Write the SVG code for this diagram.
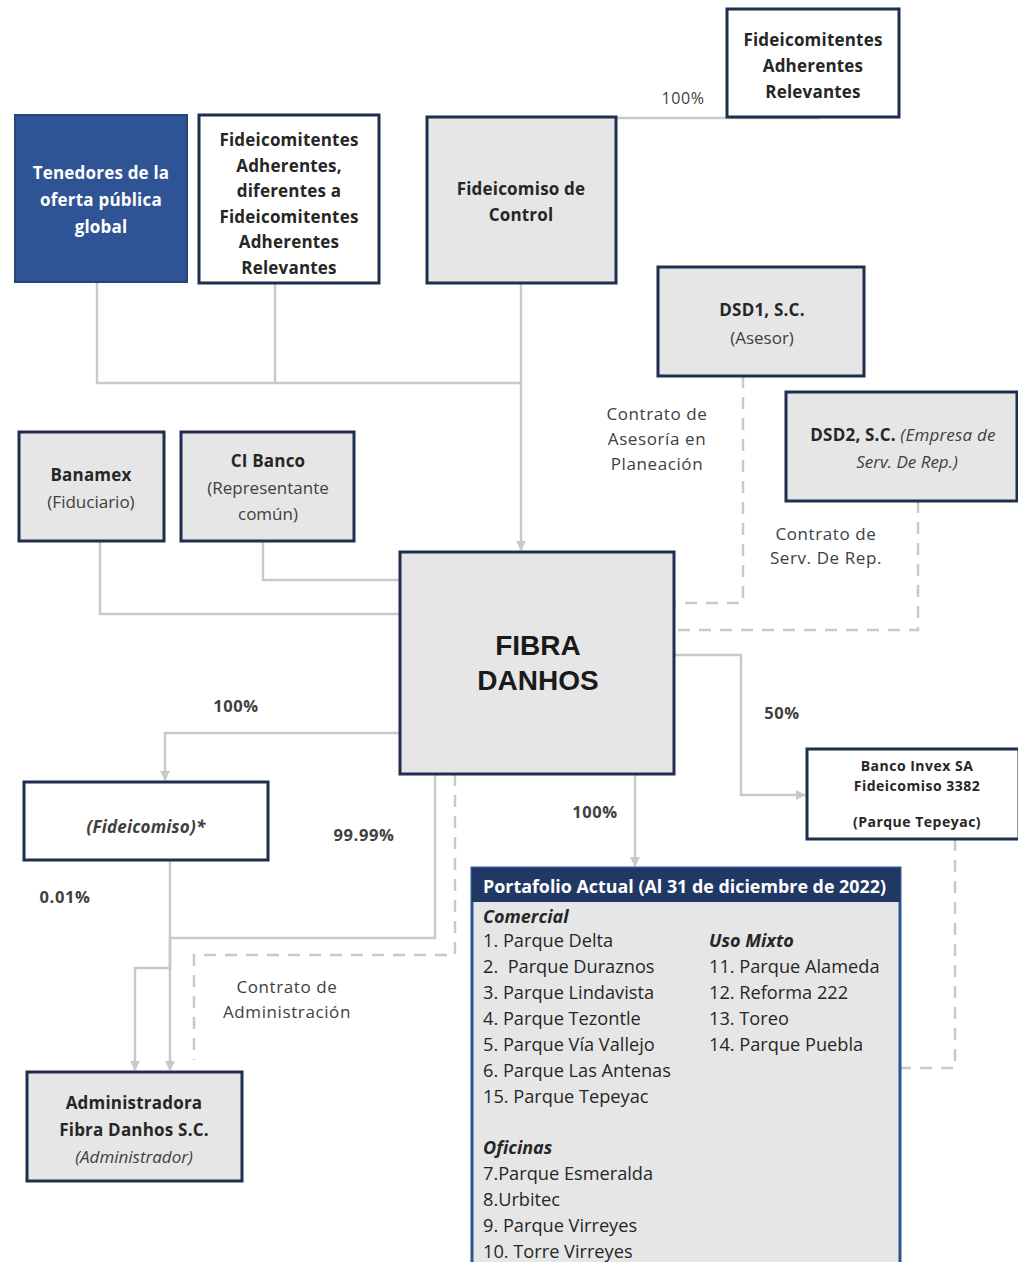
<svg xmlns="http://www.w3.org/2000/svg" width="1018" height="1262" viewBox="0 0 1018 1262">
<style>
.box{stroke:#1f2e4f;stroke-width:3}
.gray{fill:#e6e6e6}
.white{fill:#ffffff}
.t{font-family:"Open Sans","Liberation Sans",sans-serif;font-size:17px;letter-spacing:0.2px;font-weight:bold;fill:#262626;text-anchor:middle}
.ti{font-family:"Open Sans","Liberation Sans",sans-serif;font-size:17px;font-style:italic;fill:#404040;text-anchor:middle}
.tr{font-family:"Open Sans","Liberation Sans",sans-serif;font-size:17px;fill:#404040;text-anchor:middle}
.lbl{font-family:"Open Sans","Liberation Sans",sans-serif;font-size:17px;letter-spacing:0.6px;fill:#404040;text-anchor:middle}
.pct{font-family:"Open Sans","Liberation Sans",sans-serif;font-size:16.5px;letter-spacing:0.6px;font-weight:bold;fill:#404040;text-anchor:middle}
.inv{font-family:"Open Sans","Liberation Sans",sans-serif;font-size:14px;letter-spacing:0.5px;font-weight:bold;fill:#262626;text-anchor:middle}
.conn{fill:none;stroke:#c9c9c9;stroke-width:2.5}
.dash{fill:none;stroke:#c9c9c9;stroke-width:2.5;stroke-dasharray:12 9}
.pl{font-family:"Open Sans","Liberation Sans",sans-serif;font-size:18.2px;fill:#262626}
.ph{font-family:"Open Sans","Liberation Sans",sans-serif;font-size:18px;font-weight:bold;font-style:italic;fill:#262626}
</style>
<defs>
<marker id="arr" viewBox="0 0 10 10" refX="9" refY="5" markerWidth="4" markerHeight="4" orient="auto">
<path d="M0,0 L10,5 L0,10 z" fill="#c9c9c9"/>
</marker>
</defs>
<rect width="1018" height="1262" fill="#ffffff"/>

<g id="connectors">
<polyline class="conn" points="820,118 520,118"/>
<polyline class="conn" points="97,282 97,383 521,383"/>
<polyline class="conn" points="275,283 275,383"/>
<polyline class="conn" points="521,283 521,550" marker-end="url(#arr)"/>
<polyline class="conn" points="100,541 100,614 400,614"/>
<polyline class="conn" points="263,541 263,580 400,580"/>
<polyline class="dash" points="743,376 743,603 675,603"/>
<polyline class="dash" points="918,501 918,630 675,630"/>
<polyline class="conn" points="675,655 741,655 741,795 805,795" marker-end="url(#arr)"/>
<polyline class="conn" points="400,733 165,733 165,780" marker-end="url(#arr)"/>
<polyline class="conn" points="635,774 635,866" marker-end="url(#arr)"/>
<polyline class="dash" points="955,839 955,1068 900,1068"/>
<polyline class="conn" points="435,774 435,938 170,938 170,1070" marker-end="url(#arr)"/>
<polyline class="conn" points="170,860 170,968 135,968 135,1070" marker-end="url(#arr)"/>
<polyline class="dash" points="455,774 455,955 194,955 194,1060"/>
</g>

<g id="labels">
<text class="lbl" x="683" y="104" style="font-size:16px">100%</text>
<text class="lbl" x="657" y="420">Contrato de</text>
<text class="lbl" x="657" y="445">Asesoría en</text>
<text class="lbl" x="657" y="470">Planeación</text>
<text class="lbl" x="826" y="540">Contrato de</text>
<text class="lbl" x="826" y="564">Serv. De Rep.</text>
<text class="pct" x="236" y="712">100%</text>
<text class="pct" x="782" y="719">50%</text>
<text class="pct" x="595" y="818">100%</text>
<text class="pct" x="364" y="841">99.99%</text>
<text class="pct" x="65" y="903">0.01%</text>
<text class="lbl" x="287" y="993">Contrato de</text>
<text class="lbl" x="287" y="1018">Administración</text>
</g>

<g id="tenedores">
<rect x="15" y="115" width="172" height="167" fill="#2f5496" stroke="#264478" stroke-width="2"/>
<text class="t" x="101" y="179" style="fill:#ffffff">Tenedores de la</text>
<text class="t" x="101" y="206" style="fill:#ffffff">oferta pública</text>
<text class="t" x="101" y="233" style="fill:#ffffff">global</text>
</g>

<g id="fideicomitentes-adherentes">
<rect class="box white" x="199" y="115" width="180" height="168"/>
<text class="t" x="289" y="146">Fideicomitentes</text>
<text class="t" x="289" y="172">Adherentes,</text>
<text class="t" x="289" y="197">diferentes a</text>
<text class="t" x="289" y="223">Fideicomitentes</text>
<text class="t" x="289" y="248">Adherentes</text>
<text class="t" x="289" y="274">Relevantes</text>
</g>

<g id="fideicomiso-control">
<rect class="box gray" x="427" y="117" width="189" height="166"/>
<text class="t" x="521" y="195">Fideicomiso de</text>
<text class="t" x="521" y="221">Control</text>
</g>

<g id="fideicomitentes-relevantes">
<rect class="box white" x="727" y="9" width="172" height="108"/>
<text class="t" x="813" y="46">Fideicomitentes</text>
<text class="t" x="813" y="72">Adherentes</text>
<text class="t" x="813" y="98">Relevantes</text>
</g>

<g id="dsd1">
<rect class="box gray" x="658" y="267" width="206" height="109"/>
<text class="t" x="762" y="316">DSD1, S.C.</text>
<text class="tr" x="762" y="344">(Asesor)</text>
</g>

<g id="dsd2">
<rect class="box gray" x="786" y="392" width="231" height="109"/>
<text class="t" x="903" y="441">DSD2, S.C. <tspan style="font-weight:normal;font-style:italic;fill:#404040">(Empresa de</tspan></text>
<text class="ti" x="907" y="468">Serv. De Rep.)</text>
</g>

<g id="banamex">
<rect class="box gray" x="19" y="432" width="145" height="109"/>
<text class="t" x="91" y="481">Banamex</text>
<text class="tr" x="91" y="508">(Fiduciario)</text>
</g>

<g id="cibanco">
<rect class="box gray" x="181" y="432" width="173" height="109"/>
<text class="t" x="268" y="467">CI Banco</text>
<text class="tr" x="268" y="494">(Representante</text>
<text class="tr" x="268" y="520">común)</text>
</g>

<g id="fibra-danhos">
<rect class="box gray" x="400" y="552" width="274" height="222"/>
<text x="538" y="655" style="font-family:'Liberation Sans',Arial,sans-serif;font-size:28px;font-weight:bold;fill:#1a1a1a;text-anchor:middle">FIBRA</text>
<text x="538" y="690" style="font-family:'Liberation Sans',Arial,sans-serif;font-size:28px;font-weight:bold;fill:#1a1a1a;text-anchor:middle">DANHOS</text>
</g>

<g id="fideicomiso">
<rect class="box white" x="24" y="782" width="244" height="78"/>
<text class="t" x="146" y="833" style="font-style:italic;fill:#404040">(Fideicomiso)*</text>
</g>

<g id="banco-invex">
<rect class="box white" x="807" y="749" width="212" height="90"/>
<text class="inv" x="917" y="771">Banco Invex SA</text>
<text class="inv" x="917" y="791">Fideicomiso 3382</text>
<text class="inv" x="917" y="827">(Parque Tepeyac)</text>
</g>

<g id="administradora">
<rect class="box gray" x="27" y="1072" width="215" height="109"/>
<text class="t" x="134" y="1109">Administradora</text>
<text class="t" x="134" y="1136">Fibra Danhos S.C.</text>
<text class="ti" x="134" y="1163">(Administrador)</text>
</g>

<g id="portafolio">
<rect x="472" y="868" width="428" height="400" fill="#e6e6e6" stroke="#2f5496" stroke-width="3"/>
<rect x="472" y="868" width="428" height="34" fill="#203864"/>
<text x="483" y="893" textLength="403" lengthAdjust="spacingAndGlyphs" style="font-family:'Open Sans','Liberation Sans',sans-serif;font-size:17px;font-weight:bold;fill:#ffffff">Portafolio Actual (Al 31 de diciembre de 2022)</text>
<text class="ph" x="483" y="923">Comercial</text>
<text class="pl" x="483" y="947">1. Parque Delta</text>
<text class="pl" x="483" y="973" xml:space="preserve">2.  Parque Duraznos</text>
<text class="pl" x="483" y="999">3. Parque Lindavista</text>
<text class="pl" x="483" y="1025">4. Parque Tezontle</text>
<text class="pl" x="483" y="1051">5. Parque Vía Vallejo</text>
<text class="pl" x="483" y="1077">6. Parque Las Antenas</text>
<text class="pl" x="483" y="1103">15. Parque Tepeyac</text>
<text class="ph" x="483" y="1154">Oficinas</text>
<text class="pl" x="483" y="1180">7.Parque Esmeralda</text>
<text class="pl" x="483" y="1206">8.Urbitec</text>
<text class="pl" x="483" y="1232">9. Parque Virreyes</text>
<text class="pl" x="483" y="1258">10. Torre Virreyes</text>
<text class="ph" x="709" y="947">Uso Mixto</text>
<text class="pl" x="709" y="973">11. Parque Alameda</text>
<text class="pl" x="709" y="999">12. Reforma 222</text>
<text class="pl" x="709" y="1025">13. Toreo</text>
<text class="pl" x="709" y="1051">14. Parque Puebla</text>
</g>
</svg>
